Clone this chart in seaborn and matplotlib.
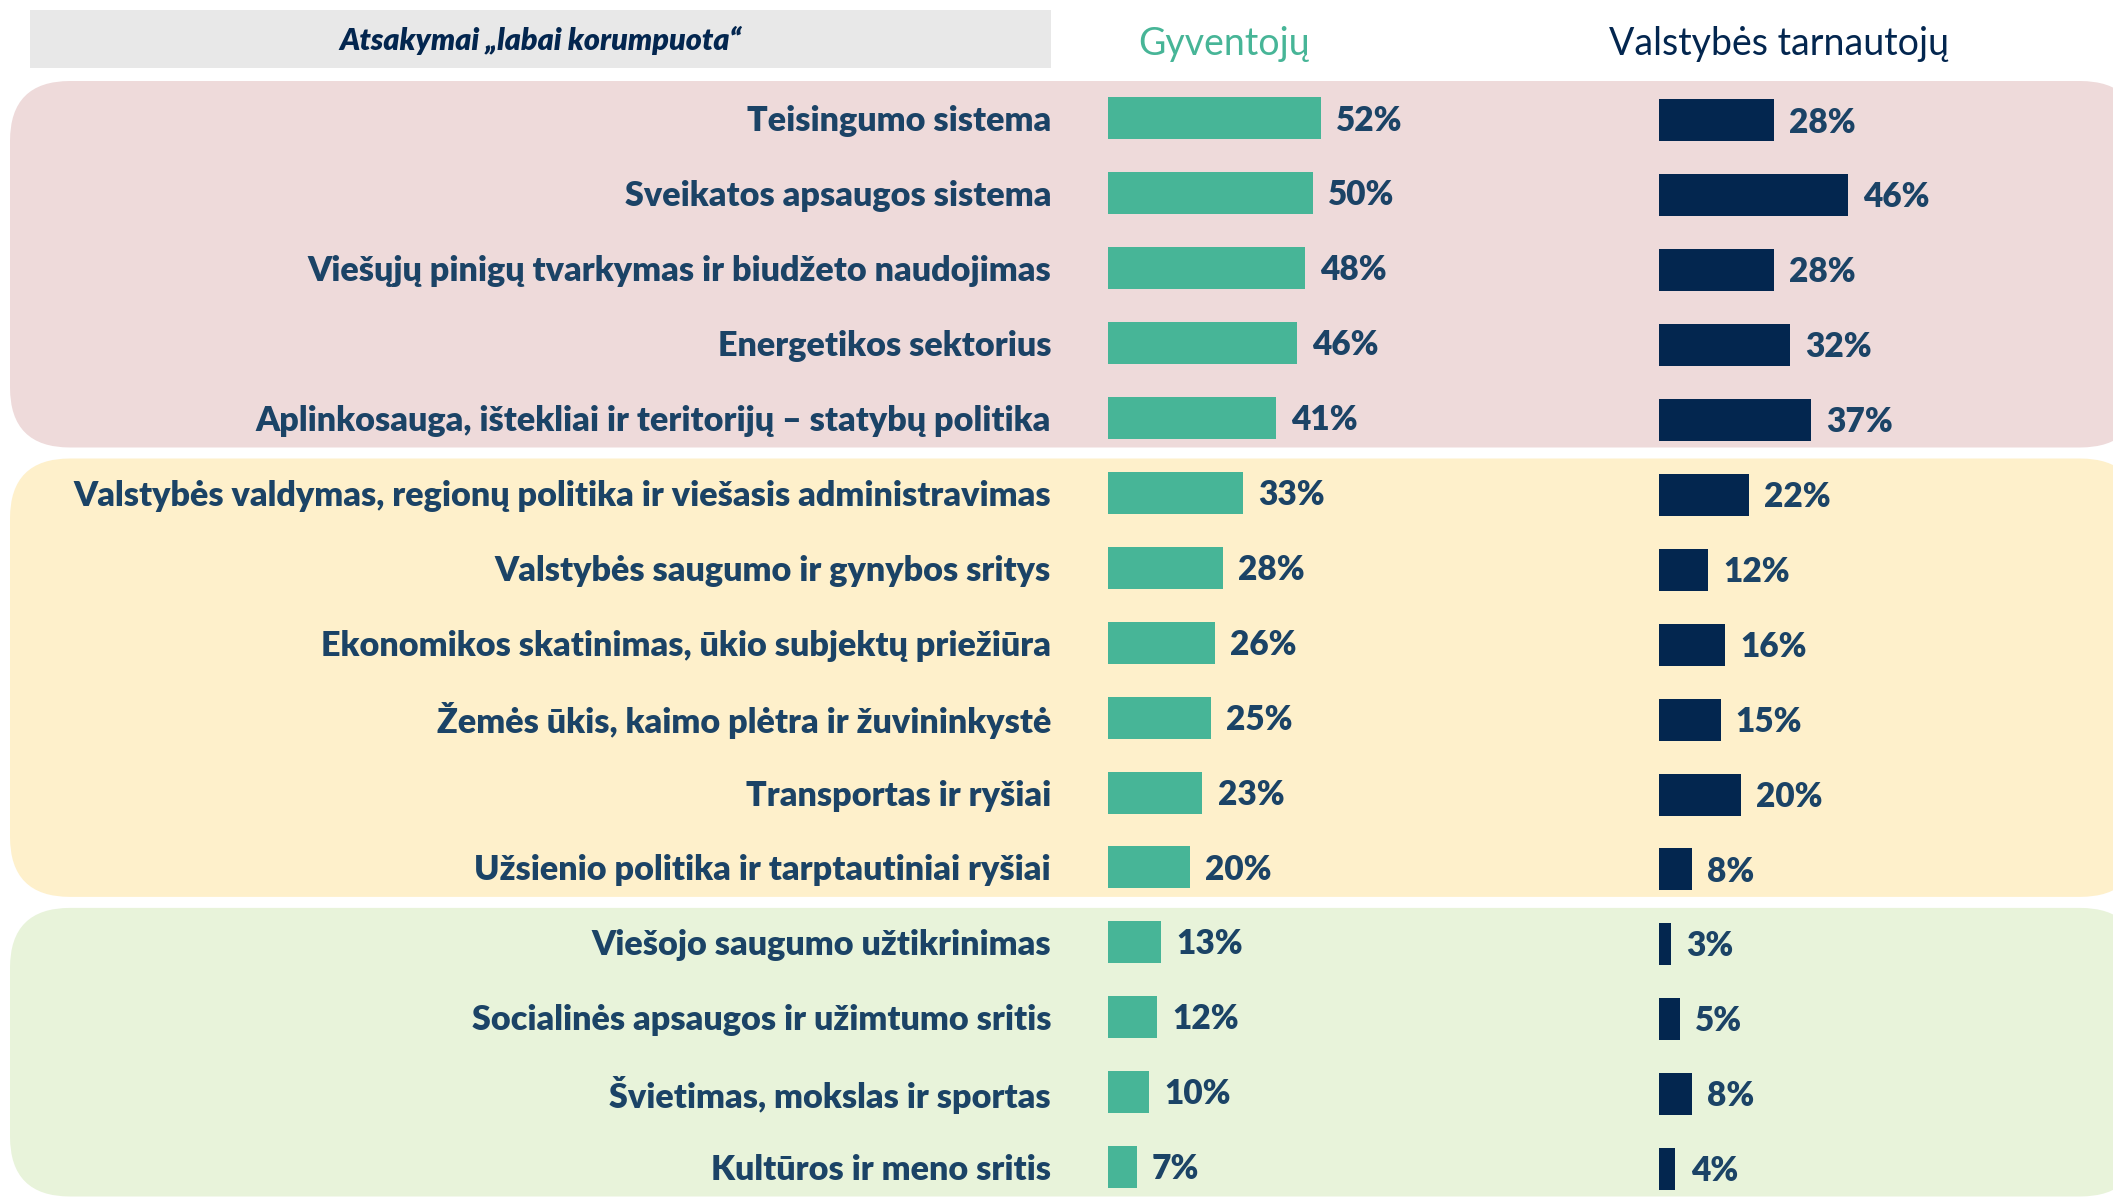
import numpy as np
import pandas as pd
import matplotlib.pyplot as plt
import seaborn as sns
from matplotlib.patches import FancyBboxPatch, Rectangle

categories = [
    "Teisingumo sistema",
    "Sveikatos apsaugos sistema",
    "Viešųjų pinigų tvarkymas ir biudžeto naudojimas",
    "Energetikos sektorius",
    "Aplinkosauga, ištekliai ir teritorijų – statybų politika",
    "Valstybės valdymas, regionų politika ir viešasis administravimas",
    "Valstybės saugumo ir gynybos sritys",
    "Ekonomikos skatinimas, ūkio subjektų priežiūra",
    "Žemės ūkis, kaimo plėtra ir žuvininkystė",
    "Transportas ir ryšiai",
    "Užsienio politika ir tarptautiniai ryšiai",
    "Viešojo saugumo užtikrinimas",
    "Socialinės apsaugos ir užimtumo sritis",
    "Švietimas, mokslas ir sportas",
    "Kultūros ir meno sritis",
]
gyventoju = [52, 50, 48, 46, 41, 33, 28, 26, 25, 23, 20, 13, 12, 10, 7]
tarnautoju = [28, 46, 28, 32, 37, 22, 12, 16, 15, 20, 8, 3, 5, 8, 4]
group_sizes = [5, 6, 4]
group_colors = ["#EEDADA", "#FEF0CB", "#E8F3DA"]

header_text = "Atsakymai „labai korumpuota“"
col_titles = ["Gyventojų", "Valstybės tarnautojų"]

green = "#47B597"
navy = "#03264F"
label_col = "#1B4366"

df = pd.DataFrame({"sritis": categories,
                   col_titles[0]: gyventoju,
                   col_titles[1]: tarnautoju})

sns.set_theme(style="white")
plt.rcParams["font.family"] = ["Lato", "DejaVu Sans"]

W, H = 2113, 1198
fig = plt.figure(figsize=(W / 100, H / 100), dpi=100)

# background layer in pixel coords
bg = fig.add_axes([0, 0, 1, 1])
bg.set_xlim(0, W)
bg.set_ylim(H, 0)
bg.axis("off")

row_top, row_step = 81, 74.9
n = len(categories)
ax_h = n * row_step
ppp = 4.1  # pixels per percent

start = 0
for size, col in zip(group_sizes, group_colors):
    y0 = row_top + start * row_step + (3 if start else 0)
    y1 = row_top + (start + size) * row_step - 8
    bg.add_patch(FancyBboxPatch((10, y0), 2130, y1 - y0,
                                boxstyle="round,pad=0,rounding_size=60",
                                fc=col, ec="none"))
    start += size

bg.add_patch(Rectangle((30, 10), 1021, 58, fc="#E8E8E8", ec="none"))
bg.text(540, 40, header_text, ha="center", va="center", fontsize=22,
        fontweight="heavy", fontstyle="italic", color=navy)
bg.text(1224, 44, col_titles[0], ha="center", va="center", fontsize=27, color=green)
bg.text(1779, 44, col_titles[1], ha="center", va="center", fontsize=27, color=navy)

ax1 = fig.add_axes([1108 / W, 1 - (row_top + ax_h) / H, 500 / W, ax_h / H])
ax2 = fig.add_axes([1659 / W, 1 - (row_top + 2 + ax_h) / H, 440 / W, ax_h / H])

for ax, col, c, w in [(ax1, col_titles[0], green, 500), (ax2, col_titles[1], navy, 440)]:
    sns.barplot(data=df, x=col, y="sritis", ax=ax, color=c, orient="h",
                width=0.56, saturation=1, linewidth=0)
    anns = ax.bar_label(ax.containers[0], labels=[f"{v}%" for v in df[col]],
                        padding=11, fontsize=24, fontweight="heavy", color=label_col)
    for a in anns:
        a.xyann = (11, -1.5)
    ax.set_xlim(0, w / ppp)
    ax.set_ylim(n - 0.5, -0.5)
    ax.set_xlabel("")
    ax.set_ylabel("")
    ax.set_xticks([])
    ax.patch.set_alpha(0)
    sns.despine(ax=ax, left=True, bottom=True)

ax1.tick_params(axis="y", length=0, pad=41)
for t in ax1.get_yticklabels():
    t.set_fontsize(24.6)
    t.set_fontweight("heavy")
    t.set_color(label_col)
ax2.tick_params(axis="y", length=0, labelleft=False)

fig.savefig("out.png", dpi=100)
